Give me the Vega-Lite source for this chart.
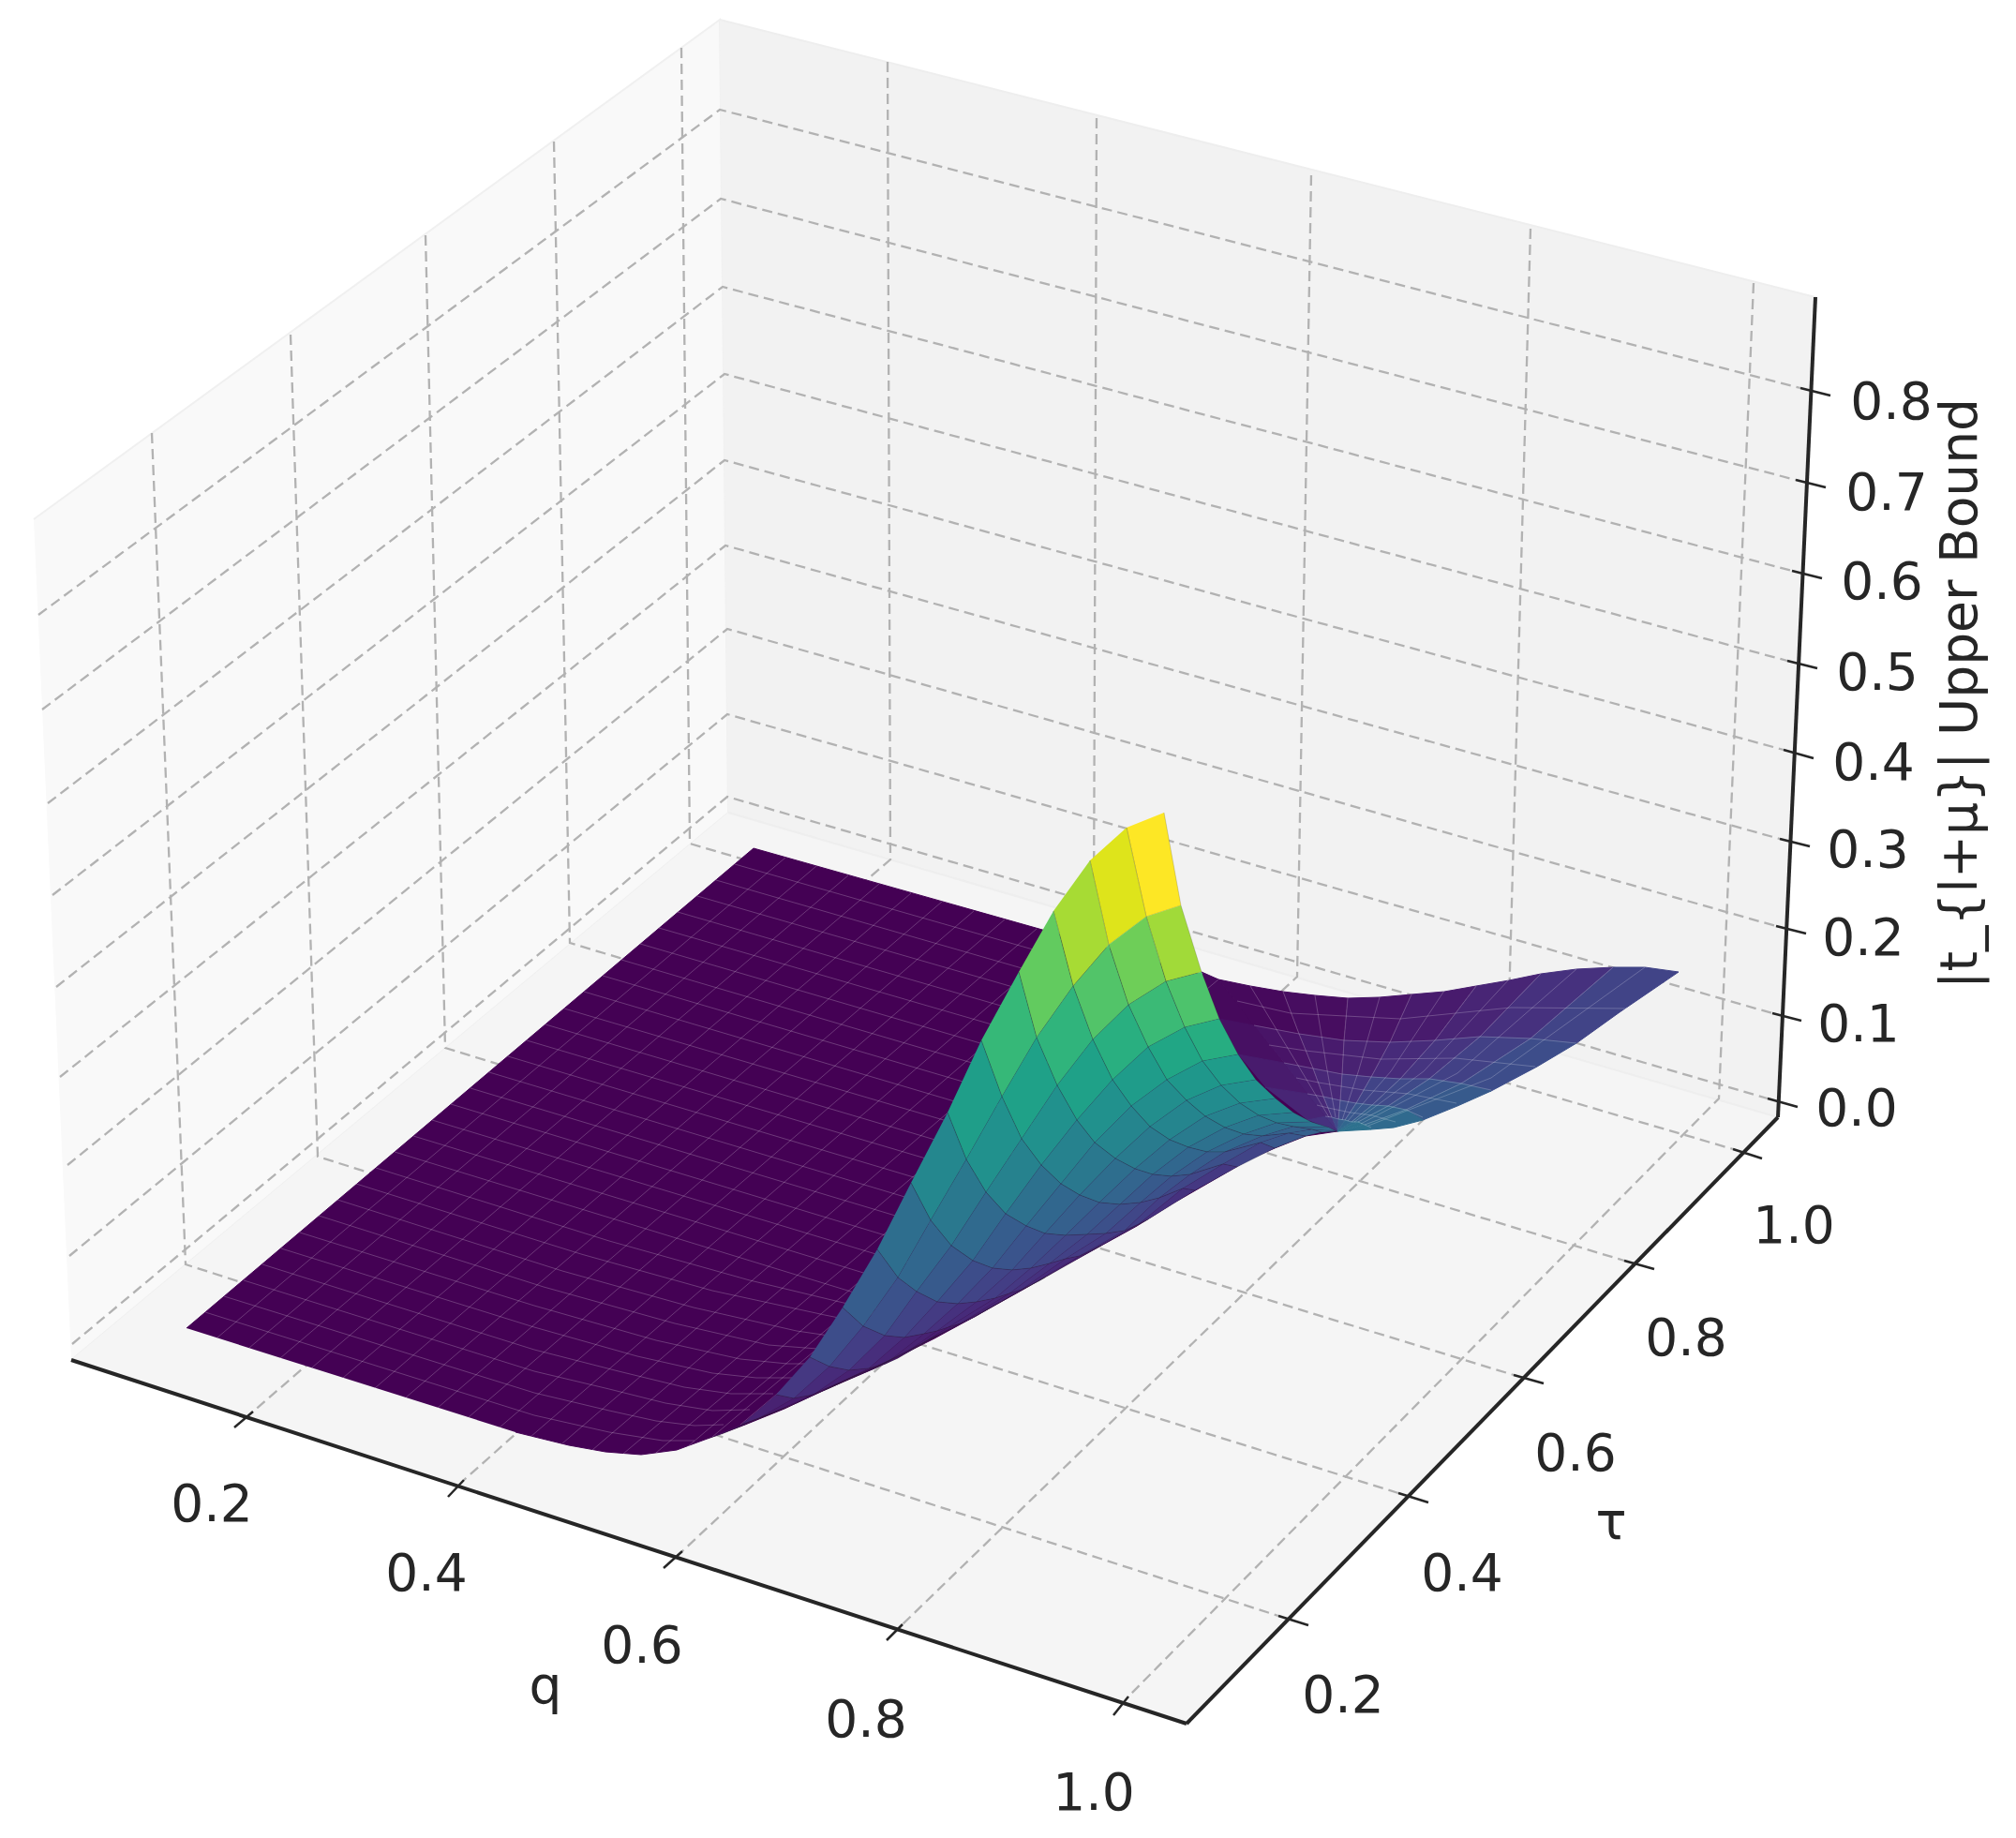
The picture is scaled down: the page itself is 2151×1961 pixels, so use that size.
{
"$schema":"https://vega.github.io/schema/vega-lite/v6.json",
"width":2151,"height":1961,
"autosize":{"type":"fit","contains":"padding"},
"padding":0,
"background":"#ffffff",
"view":{"stroke":null},
"datasets":{
"grid":[
{"id":"z8","xs":[41,768,1921],"ys":[656,117,414]},
{"id":"z7","xs":[45,769,1916],"ys":[757,212,512]},
{"id":"z6","xs":[51,771,1912],"ys":[857,306,609]},
{"id":"z5","xs":[56,773,1907],"ys":[955,399,705]},
{"id":"z4","xs":[60,773,1903],"ys":[1053,491,800]},
{"id":"z3","xs":[64,774,1899],"ys":[1149,582,895]},
{"id":"z2","xs":[72,776,1895],"ys":[1243,671,988]},
{"id":"z1","xs":[74,776,1891],"ys":[1340,762,1081]},
{"id":"z0","xs":[77,776,1886],"ys":[1434,850,1172]},
{"id":"t2","xs":[162,198,1364],"ys":[462,1349,1724]},
{"id":"t4","xs":[310,339,1492],"ys":[357,1234,1593]},
{"id":"t6","xs":[454,475,1615],"ys":[251,1118,1467]},
{"id":"t8","xs":[591,608,1733],"ys":[151,1006,1345]},
{"id":"t10","xs":[727,736,1849],"ys":[51,900,1226]},
{"id":"q2","xs":[947,950,270],"ys":[66,917,1506]},
{"id":"q4","xs":[1170,1167,495],"ys":[126,980,1579]},
{"id":"q6","xs":[1399,1384,728],"ys":[187,1042,1655]},
{"id":"q8","xs":[1633,1609,963],"ys":[244,1107,1733]},
{"id":"q10","xs":[1871,1834,1204],"ys":[302,1172,1810]}
],
"surface":[
{"id":"sheet","z":0,"xs":[199,804,1300,1427,1393,1360,1333,1293,1253,1213,1173,1133,1093,1043,997,933,875,837,795,760,722,684,646,607,550],"ys":[1417,905,1045,1207,1212,1225,1237,1260,1283,1308,1330,1352,1375,1403,1428,1460,1485,1503,1520,1533,1547,1552,1549,1542,1528]},
{"id":"s0","z":0.01,"xs":[1282,1300,1338,1301],"ys":[1037,1045,1094,1087]},
{"id":"s1","z":0.02,"xs":[1301,1338,1370,1321],"ys":[1087,1094,1134,1125]},
{"id":"s2","z":0.035,"xs":[1321,1370,1395,1350],"ys":[1125,1134,1167,1160]},
{"id":"s3","z":0.05,"xs":[1350,1395,1414,1395],"ys":[1160,1167,1191,1195]},
{"id":"s4","z":0.07,"xs":[1395,1414,1427,1427],"ys":[1195,1191,1207,1207]},
{"id":"a0","z":0.01,"xs":[1300,1334,1369,1386,1338],"ys":[1045,1052,1058,1103,1094]},
{"id":"a1","z":0.025,"xs":[1338,1386,1401,1370],"ys":[1094,1103,1140,1134]},
{"id":"a2","z":0.04,"xs":[1370,1401,1412,1395],"ys":[1134,1140,1170,1167]},
{"id":"a3","z":0.055,"xs":[1395,1412,1421,1414],"ys":[1167,1170,1192,1191]},
{"id":"a4","z":0.075,"xs":[1414,1421,1427,1427],"ys":[1191,1192,1207,1207]},
{"id":"b0","z":0.015,"xs":[1369,1403,1438,1434,1386],"ys":[1058,1062,1065,1110,1103]},
{"id":"b1","z":0.035,"xs":[1386,1434,1432,1401],"ys":[1103,1110,1146,1140]},
{"id":"b2","z":0.055,"xs":[1401,1432,1430,1412],"ys":[1140,1146,1174,1170]},
{"id":"b3","z":0.08,"xs":[1412,1430,1428,1421],"ys":[1170,1174,1194,1192]},
{"id":"b4","z":0.11,"xs":[1421,1428,1427,1427],"ys":[1192,1194,1207,1207]},
{"id":"c0","z":0.025,"xs":[1438,1472,1506,1483,1434],"ys":[1065,1064,1061,1112,1110]},
{"id":"c1","z":0.045,"xs":[1434,1483,1463,1432],"ys":[1110,1112,1149,1146]},
{"id":"c2","z":0.075,"xs":[1432,1463,1447,1430],"ys":[1146,1149,1177,1174]},
{"id":"c3","z":0.11,"xs":[1430,1447,1435,1428],"ys":[1174,1177,1195,1194]},
{"id":"c4","z":0.15,"xs":[1428,1435,1427,1427],"ys":[1194,1195,1207,1207]},
{"id":"d0","z":0.035,"xs":[1506,1541,1575,1531,1483],"ys":[1061,1058,1052,1110,1112]},
{"id":"d1","z":0.06,"xs":[1483,1531,1494,1463],"ys":[1112,1110,1151,1149]},
{"id":"d2","z":0.1,"xs":[1463,1494,1464,1447],"ys":[1149,1151,1179,1177]},
{"id":"d3","z":0.135,"xs":[1447,1464,1442,1435],"ys":[1177,1179,1197,1195]},
{"id":"d4","z":0.165,"xs":[1435,1442,1427,1427],"ys":[1195,1197,1207,1207]},
{"id":"e0","z":0.05,"xs":[1575,1610,1644,1579,1531],"ys":[1052,1046,1039,1106,1110]},
{"id":"e1","z":0.075,"xs":[1531,1579,1525,1494],"ys":[1110,1106,1151,1151]},
{"id":"e2","z":0.11,"xs":[1494,1525,1481,1464],"ys":[1151,1151,1180,1179]},
{"id":"e3","z":0.15,"xs":[1464,1481,1449,1442],"ys":[1179,1180,1197,1197]},
{"id":"e4","z":0.18,"xs":[1442,1449,1427,1427],"ys":[1197,1197,1207,1207]},
{"id":"f0","z":0.07,"xs":[1644,1682,1721,1633,1579],"ys":[1039,1034,1032,1108,1106]},
{"id":"f1","z":0.095,"xs":[1579,1633,1559,1525],"ys":[1106,1108,1156,1151]},
{"id":"f2","z":0.13,"xs":[1525,1559,1500,1481],"ys":[1151,1156,1184,1180]},
{"id":"f3","z":0.16,"xs":[1481,1500,1456,1449],"ys":[1180,1184,1200,1197]},
{"id":"f4","z":0.185,"xs":[1449,1456,1427,1427],"ys":[1197,1200,1207,1207]},
{"id":"g0","z":0.1,"xs":[1721,1755,1791,1728,1682,1633],"ys":[1032,1032,1037,1080,1113,1108]},
{"id":"g1","z":0.115,"xs":[1633,1682,1640,1591,1559],"ys":[1108,1113,1138,1164,1156]},
{"id":"g2","z":0.14,"xs":[1559,1591,1555,1518,1500],"ys":[1156,1164,1180,1195,1184]},
{"id":"g3","z":0.17,"xs":[1500,1518,1487,1463,1456],"ys":[1184,1195,1203,1205,1200]},
{"id":"g4","z":0.185,"xs":[1456,1463,1427,1427],"ys":[1200,1205,1207,1207]}
],
"mesh":[
{"id":"m1","xs":[219,570,650,707,741],"ys":[1400,1510,1528,1537,1537]},
{"id":"m2","xs":[239,570,650,700,741,772],"ys":[1383,1486,1505,1516,1521,1520]},
{"id":"m3","xs":[260,570,650,710,760,800],"ys":[1366,1463,1482,1497,1505,1504]},
{"id":"m4","xs":[280,570,660,730,780,825],"ys":[1349,1440,1463,1480,1487,1487]},
{"id":"m5","xs":[300,570,680,760,807,850],"ys":[1332,1416,1447,1465,1470,1470]},
{"id":"m6","xs":[320,570,700,790,840,870],"ys":[1315,1393,1430,1450,1455,1455]},
{"id":"m7","xs":[340,580,720,820,885],"ys":[1297,1373,1412,1435,1440]},
{"id":"m8","xs":[360,600,740,850,905],"ys":[1280,1356,1395,1420,1428]},
{"id":"m9","xs":[380,620,760,880,925],"ys":[1263,1338,1377,1403,1412]},
{"id":"m10","xs":[401,650,800,900,950],"ys":[1246,1324,1366,1390,1398]},
{"id":"m11","xs":[421,921],"ys":[1229,1382]},
{"id":"m12","xs":[441,941],"ys":[1212,1364]},
{"id":"m13","xs":[461,961],"ys":[1195,1346]},
{"id":"m14","xs":[481,981],"ys":[1178,1329]},
{"id":"m15","xs":[502,1002],"ys":[1161,1311]},
{"id":"m16","xs":[522,1022],"ys":[1144,1294]},
{"id":"m17","xs":[542,1042],"ys":[1127,1276]},
{"id":"m18","xs":[562,1062],"ys":[1110,1258]},
{"id":"m19","xs":[582,1082],"ys":[1093,1241]},
{"id":"m20","xs":[602,1102],"ys":[1076,1223]},
{"id":"m21","xs":[623,1123],"ys":[1058,1206]},
{"id":"m22","xs":[643,1143],"ys":[1041,1188]},
{"id":"m23","xs":[663,1163],"ys":[1024,1171]},
{"id":"m24","xs":[683,1183],"ys":[1007,1153]},
{"id":"m25","xs":[703,1203],"ys":[990,1135]},
{"id":"m26","xs":[723,1223],"ys":[973,1118]},
{"id":"m27","xs":[744,1244],"ys":[956,1100]},
{"id":"m28","xs":[764,1264],"ys":[939,1083]},
{"id":"m29","xs":[784,1284],"ys":[922,1065]},
{"id":"k1","xs":[838,232],"ys":[915,1427]},
{"id":"k2","xs":[871,266],"ys":[924,1438]},
{"id":"k3","xs":[905,299],"ys":[934,1449]},
{"id":"k4","xs":[938,333],"ys":[943,1459]},
{"id":"k5","xs":[972,366],"ys":[953,1470]},
{"id":"k6","xs":[1005,400],"ys":[962,1481]},
{"id":"k7","xs":[1039,433],"ys":[972,1491]},
{"id":"k8","xs":[1072,467],"ys":[981,1502]},
{"id":"k9","xs":[1106,500],"ys":[991,1512]},
{"id":"k10","xs":[1139,533],"ys":[1001,1523]},
{"id":"k11","xs":[1173,566],"ys":[1010,1533]},
{"id":"k12","xs":[1206,600],"ys":[1020,1540]},
{"id":"k13","xs":[1240,632],"ys":[1029,1547]},
{"id":"k14","xs":[1273,665],"ys":[1039,1551]},
{"id":"k15","xs":[1300,700],"ys":[1045,1550]},
{"id":"k16","xs":[1000,733],"ys":[1319,1544]},
{"id":"k17","xs":[1000,760],"ys":[1331,1533]},
{"id":"k18","xs":[1000,790],"ys":[1343,1520]},
{"id":"f1","xs":[1334,1381,1418],"ys":[1052,1130,1192]},
{"id":"f2","xs":[1369,1386,1401,1412,1421],"ys":[1058,1103,1140,1170,1192]},
{"id":"f3","xs":[1403,1415,1425],"ys":[1062,1136,1192]},
{"id":"f4","xs":[1438,1434,1432,1430,1428],"ys":[1065,1110,1146,1174,1194]},
{"id":"f5","xs":[1472,1450,1432],"ys":[1064,1141,1195]},
{"id":"f6","xs":[1506,1483,1463,1447,1435],"ys":[1061,1112,1149,1177,1195]},
{"id":"f7","xs":[1541,1484,1438],"ys":[1057,1143,1196]},
{"id":"f8","xs":[1575,1531,1494,1464,1442],"ys":[1052,1110,1151,1179,1197]},
{"id":"f9","xs":[1610,1519,1445],"ys":[1045,1143,1197]},
{"id":"f10","xs":[1644,1579,1525,1481,1449],"ys":[1039,1106,1151,1180,1197]},
{"id":"f11","xs":[1682,1555,1452],"ys":[1034,1145,1199]},
{"id":"f12","xs":[1721,1633,1559,1500,1456],"ys":[1032,1108,1156,1184,1200]},
{"id":"f13","xs":[1755,1591,1460],"ys":[1032,1150,1201]},
{"id":"r1","xs":[1320,1377,1494,1612,1736],"ys":[1068,1081,1087,1075,1076]},
{"id":"r2","xs":[1338,1386,1434,1483,1531,1579,1633,1682],"ys":[1094,1103,1110,1112,1110,1106,1108,1113]},
{"id":"r3","xs":[1354,1393,1473,1553,1638],"ys":[1115,1121,1130,1129,1138]},
{"id":"r4","xs":[1370,1401,1432,1463,1494,1525,1559,1591],"ys":[1134,1140,1146,1149,1151,1151,1156,1163]},
{"id":"r5","xs":[1383,1407,1455,1503,1554],"ys":[1150,1155,1163,1167,1177]},
{"id":"r6","xs":[1395,1412,1430,1447,1464,1481,1500,1518],"ys":[1167,1170,1174,1177,1179,1180,1184,1192]},
{"id":"r7","xs":[1405,1417,1441,1464,1489],"ys":[1179,1182,1187,1190,1197]},
{"id":"r8","xs":[1414,1421,1428,1435,1442,1449,1456,1463],"ys":[1191,1192,1194,1195,1197,1197,1200,1203]}
],
"hump":[
{"id":1,"z":0.5,"xs":[1242,1260,1223,1202],"ys":[867,966,978,883]},
{"id":2,"z":0.43,"xs":[1260,1282,1244,1223],"ys":[966,1037,1047,978]},
{"id":3,"z":0.36,"xs":[1282,1301,1264,1244],"ys":[1037,1087,1096,1047]},
{"id":4,"z":0.31,"xs":[1301,1321,1283,1264],"ys":[1087,1125,1132,1096]},
{"id":5,"z":0.275,"xs":[1321,1340,1303,1283],"ys":[1125,1152,1158,1132]},
{"id":6,"z":0.25,"xs":[1340,1361,1323,1303],"ys":[1152,1172,1177,1158]},
{"id":7,"z":0.23,"xs":[1361,1380,1343,1323],"ys":[1172,1187,1190,1177]},
{"id":8,"z":0.21,"xs":[1380,1399,1362,1343],"ys":[1187,1197,1198,1190]},
{"id":9,"z":0.19,"xs":[1399,1418,1380,1362],"ys":[1197,1203,1202,1198]},
{"id":10,"z":0.17,"xs":[1418,1426,1400,1380],"ys":[1203,1207,1205,1202]},
{"id":11,"z":0.17,"xs":[1426,1427,1410,1400],"ys":[1207,1207,1208,1205]},
{"id":12,"z":0.475,"xs":[1202,1223,1183,1163],"ys":[883,978,1008,918]},
{"id":13,"z":0.39,"xs":[1223,1244,1204,1183],"ys":[978,1047,1072,1008]},
{"id":14,"z":0.34,"xs":[1244,1264,1225,1204],"ys":[1047,1096,1117,1072]},
{"id":15,"z":0.295,"xs":[1264,1283,1245,1225],"ys":[1096,1132,1152,1117]},
{"id":16,"z":0.265,"xs":[1283,1303,1266,1245],"ys":[1132,1158,1174,1152]},
{"id":17,"z":0.24,"xs":[1303,1323,1286,1266],"ys":[1158,1177,1191,1174]},
{"id":18,"z":0.22,"xs":[1323,1343,1307,1286],"ys":[1177,1190,1203,1191]},
{"id":19,"z":0.2,"xs":[1343,1362,1327,1307],"ys":[1190,1198,1210,1203]},
{"id":20,"z":0.18,"xs":[1362,1380,1347,1327],"ys":[1198,1202,1212,1210]},
{"id":21,"z":0.155,"xs":[1380,1400,1375,1347],"ys":[1202,1205,1209,1212]},
{"id":22,"z":0.15,"xs":[1400,1410,1393,1375],"ys":[1205,1208,1212,1209]},
{"id":23,"z":0.435,"xs":[1163,1183,1145,1124],"ys":[918,1008,1052,972]},
{"id":24,"z":0.365,"xs":[1183,1204,1166,1145],"ys":[1008,1072,1109,1052]},
{"id":25,"z":0.315,"xs":[1204,1225,1187,1166],"ys":[1072,1117,1152,1109]},
{"id":26,"z":0.275,"xs":[1225,1245,1207,1187],"ys":[1117,1152,1180,1152]},
{"id":27,"z":0.245,"xs":[1245,1266,1227,1207],"ys":[1152,1174,1202,1180]},
{"id":28,"z":0.225,"xs":[1266,1286,1248,1227],"ys":[1174,1191,1216,1202]},
{"id":29,"z":0.205,"xs":[1286,1307,1268,1248],"ys":[1191,1203,1224,1216]},
{"id":30,"z":0.185,"xs":[1307,1327,1288,1268],"ys":[1203,1210,1229,1224]},
{"id":31,"z":0.165,"xs":[1327,1347,1307,1288],"ys":[1210,1212,1229,1229]},
{"id":32,"z":0.14,"xs":[1347,1375,1345,1307],"ys":[1212,1209,1219,1229]},
{"id":33,"z":0.135,"xs":[1375,1393,1360,1345],"ys":[1209,1212,1225,1219]},
{"id":34,"z":0.38,"xs":[1124,1145,1106,1087],"ys":[972,1052,1107,1037]},
{"id":35,"z":0.325,"xs":[1145,1166,1128,1106],"ys":[1052,1109,1158,1107]},
{"id":36,"z":0.285,"xs":[1166,1187,1149,1128],"ys":[1109,1152,1195,1158]},
{"id":37,"z":0.25,"xs":[1187,1207,1168,1149],"ys":[1152,1180,1219,1195]},
{"id":38,"z":0.225,"xs":[1207,1227,1190,1168],"ys":[1180,1202,1236,1219]},
{"id":39,"z":0.205,"xs":[1227,1248,1211,1190],"ys":[1202,1216,1247,1236]},
{"id":40,"z":0.185,"xs":[1248,1268,1230,1211],"ys":[1216,1224,1253,1247]},
{"id":41,"z":0.165,"xs":[1268,1288,1250,1230],"ys":[1224,1229,1255,1253]},
{"id":42,"z":0.145,"xs":[1288,1307,1270,1250],"ys":[1229,1229,1253,1255]},
{"id":43,"z":0.12,"xs":[1307,1345,1305,1270],"ys":[1229,1219,1242,1253]},
{"id":44,"z":0.1,"xs":[1345,1360,1320,1305],"ys":[1219,1225,1245,1242]},
{"id":45,"z":0.335,"xs":[1087,1106,1069,1047],"ys":[1037,1107,1170,1110]},
{"id":46,"z":0.285,"xs":[1106,1128,1090,1069],"ys":[1107,1158,1215,1170]},
{"id":47,"z":0.25,"xs":[1128,1149,1111,1090],"ys":[1158,1195,1243,1215]},
{"id":48,"z":0.22,"xs":[1149,1168,1132,1111],"ys":[1195,1219,1263,1243]},
{"id":49,"z":0.2,"xs":[1168,1190,1152,1132],"ys":[1219,1236,1275,1263]},
{"id":50,"z":0.18,"xs":[1190,1211,1173,1152],"ys":[1236,1247,1283,1275]},
{"id":51,"z":0.16,"xs":[1211,1230,1195,1173],"ys":[1247,1253,1285,1283]},
{"id":52,"z":0.14,"xs":[1230,1250,1217,1195],"ys":[1253,1255,1283,1285]},
{"id":53,"z":0.125,"xs":[1250,1270,1237,1217],"ys":[1255,1253,1278,1283]},
{"id":54,"z":0.105,"xs":[1270,1305,1262,1237],"ys":[1253,1242,1268,1278]},
{"id":55,"z":0.08,"xs":[1305,1320,1275,1262],"ys":[1242,1245,1270,1268]},
{"id":56,"z":0.28,"xs":[1047,1069,1031,1011],"ys":[1110,1170,1237,1187]},
{"id":57,"z":0.25,"xs":[1069,1090,1052,1031],"ys":[1170,1215,1272,1237]},
{"id":58,"z":0.22,"xs":[1090,1111,1073,1052],"ys":[1215,1243,1295,1272]},
{"id":59,"z":0.185,"xs":[1111,1132,1095,1073],"ys":[1243,1263,1308,1295]},
{"id":60,"z":0.165,"xs":[1132,1152,1115,1095],"ys":[1263,1275,1316,1308]},
{"id":61,"z":0.15,"xs":[1152,1173,1137,1115],"ys":[1275,1283,1318,1316]},
{"id":62,"z":0.135,"xs":[1173,1195,1160,1137],"ys":[1283,1285,1317,1318]},
{"id":63,"z":0.12,"xs":[1195,1217,1180,1160],"ys":[1285,1283,1316,1317]},
{"id":64,"z":0.105,"xs":[1217,1237,1200,1180],"ys":[1283,1278,1313,1316]},
{"id":65,"z":0.09,"xs":[1237,1262,1215,1200],"ys":[1278,1268,1306,1313]},
{"id":66,"z":0.07,"xs":[1262,1275,1225,1215],"ys":[1268,1270,1301,1306]},
{"id":67,"z":0.23,"xs":[1011,1031,993,972],"ys":[1187,1237,1302,1262]},
{"id":68,"z":0.2,"xs":[1031,1052,1015,993],"ys":[1237,1272,1329,1302]},
{"id":69,"z":0.17,"xs":[1052,1073,1038,1015],"ys":[1272,1295,1345,1329]},
{"id":70,"z":0.145,"xs":[1073,1095,1059,1038],"ys":[1295,1308,1353,1345]},
{"id":71,"z":0.13,"xs":[1095,1115,1080,1059],"ys":[1308,1316,1355,1353]},
{"id":72,"z":0.115,"xs":[1115,1137,1100,1080],"ys":[1316,1318,1353,1355]},
{"id":73,"z":0.105,"xs":[1137,1160,1120,1100],"ys":[1318,1317,1348,1353]},
{"id":74,"z":0.095,"xs":[1160,1180,1137,1120],"ys":[1317,1316,1343,1348]},
{"id":75,"z":0.085,"xs":[1180,1200,1152,1137],"ys":[1316,1313,1340,1343]},
{"id":76,"z":0.075,"xs":[1200,1215,1165,1152],"ys":[1313,1306,1334,1340]},
{"id":77,"z":0.06,"xs":[1215,1225,1175,1165],"ys":[1306,1301,1329,1334]},
{"id":78,"z":0.18,"xs":[972,993,958,936],"ys":[1262,1302,1363,1333]},
{"id":79,"z":0.165,"xs":[993,1015,978,958],"ys":[1302,1329,1378,1363]},
{"id":80,"z":0.14,"xs":[1015,1038,1000,978],"ys":[1329,1345,1389,1378]},
{"id":81,"z":0.115,"xs":[1038,1059,1022,1000],"ys":[1345,1353,1391,1389]},
{"id":82,"z":0.1,"xs":[1059,1080,1042,1022],"ys":[1353,1355,1389,1391]},
{"id":83,"z":0.09,"xs":[1080,1100,1062,1042],"ys":[1355,1353,1385,1389]},
{"id":84,"z":0.08,"xs":[1100,1120,1077,1062],"ys":[1353,1348,1380,1385]},
{"id":85,"z":0.07,"xs":[1120,1137,1090,1077],"ys":[1348,1343,1376,1380]},
{"id":86,"z":0.06,"xs":[1137,1152,1100,1090],"ys":[1343,1340,1371,1376]},
{"id":87,"z":0.05,"xs":[1152,1165,1108,1100],"ys":[1340,1334,1367,1371]},
{"id":88,"z":0.045,"xs":[1165,1175,1115,1108],"ys":[1334,1329,1363,1367]},
{"id":89,"z":0.145,"xs":[936,958,921,899],"ys":[1333,1363,1415,1395]},
{"id":90,"z":0.125,"xs":[958,978,944,921],"ys":[1363,1378,1425,1415]},
{"id":91,"z":0.1,"xs":[978,1000,965,944],"ys":[1378,1389,1427,1425]},
{"id":92,"z":0.085,"xs":[1000,1022,986,965],"ys":[1389,1391,1423,1427]},
{"id":93,"z":0.07,"xs":[1022,1042,1000,986],"ys":[1391,1389,1420,1423]},
{"id":94,"z":0.06,"xs":[1042,1062,1012,1000],"ys":[1389,1385,1416,1420]},
{"id":95,"z":0.055,"xs":[1062,1077,1025,1012],"ys":[1385,1380,1412,1416]},
{"id":96,"z":0.05,"xs":[1077,1090,1040,1025],"ys":[1380,1376,1405,1412]},
{"id":97,"z":0.045,"xs":[1090,1100,1055,1040],"ys":[1376,1371,1396,1405]},
{"id":98,"z":0.04,"xs":[1100,1115,1055],"ys":[1371,1363,1396]},
{"id":99,"z":0.115,"xs":[899,921,885,864],"ys":[1395,1415,1458,1448]},
{"id":100,"z":0.09,"xs":[921,944,906,885],"ys":[1415,1425,1462,1458]},
{"id":101,"z":0.065,"xs":[944,965,927,906],"ys":[1425,1427,1460,1462]},
{"id":102,"z":0.05,"xs":[965,986,945,927],"ys":[1427,1423,1455,1460]},
{"id":103,"z":0.045,"xs":[986,1000,958,945],"ys":[1423,1420,1449,1455]},
{"id":104,"z":0.04,"xs":[1000,1012,970,958],"ys":[1420,1416,1442,1449]},
{"id":105,"z":0.035,"xs":[1012,1025,982,970],"ys":[1416,1412,1435,1442]},
{"id":106,"z":0.03,"xs":[1025,1040,992,982],"ys":[1412,1405,1429,1435]},
{"id":107,"z":0.03,"xs":[1040,1055,1000,992],"ys":[1405,1396,1425,1429]},
{"id":108,"z":0.08,"xs":[864,885,847,828],"ys":[1448,1458,1492,1488]},
{"id":109,"z":0.06,"xs":[885,906,868,847],"ys":[1458,1462,1488,1492]},
{"id":110,"z":0.045,"xs":[906,927,885,868],"ys":[1462,1460,1481,1488]},
{"id":111,"z":0.035,"xs":[927,945,900,885],"ys":[1460,1455,1474,1481]},
{"id":112,"z":0.03,"xs":[945,958,912,900],"ys":[1455,1449,1468,1474]},
{"id":113,"z":0.025,"xs":[958,970,922,912],"ys":[1449,1442,1464,1468]},
{"id":114,"z":0.025,"xs":[970,982,932,922],"ys":[1442,1435,1460,1464]},
{"id":115,"z":0.02,"xs":[982,992,942,932],"ys":[1435,1429,1455,1460]},
{"id":116,"z":0.02,"xs":[992,1000,950,942],"ys":[1429,1425,1451,1455]},
{"id":117,"z":0.045,"xs":[828,847,810,791],"ys":[1488,1492,1513,1520]},
{"id":118,"z":0.035,"xs":[847,868,825,810],"ys":[1492,1488,1507,1513]},
{"id":119,"z":0.025,"xs":[868,885,838,825],"ys":[1488,1481,1502,1507]},
{"id":120,"z":0.02,"xs":[885,900,850,838],"ys":[1481,1474,1497,1502]},
{"id":121,"z":0.02,"xs":[900,912,860,850],"ys":[1474,1468,1491,1497]},
{"id":122,"z":0.015,"xs":[912,922,870,860],"ys":[1468,1464,1487,1491]},
{"id":123,"z":0.015,"xs":[922,932,880,870],"ys":[1464,1460,1482,1487]},
{"id":124,"z":0.015,"xs":[932,942,890,880],"ys":[1460,1455,1478,1482]},
{"id":125,"z":0.015,"xs":[942,950,900,890],"ys":[1455,1451,1473,1478]},
{"id":126,"z":0.02,"xs":[791,810,770,755],"ys":[1520,1513,1530,1535]},
{"id":127,"z":0.015,"xs":[810,825,785,770],"ys":[1513,1507,1524,1530]},
{"id":128,"z":0.01,"xs":[825,838,798,785],"ys":[1507,1502,1518,1524]}
],
"axes":[
{"id":"q","xs":[76,1266],"ys":[1451,1839]},
{"id":"t","xs":[1266,1897],"ys":[1839,1192]},
{"id":"z","xs":[1897,1937],"ys":[1192,317]}
],
"ticks":[
{"id":"q2","xs":[270,250],"ys":[1506,1523]},
{"id":"q4","xs":[495,478],"ys":[1579,1597]},
{"id":"q6","xs":[728,708],"ys":[1655,1673]},
{"id":"q8","xs":[963,946],"ys":[1733,1750]},
{"id":"q10","xs":[1204,1188],"ys":[1810,1830]},
{"id":"t2","xs":[1364,1396],"ys":[1724,1734]},
{"id":"t4","xs":[1492,1524],"ys":[1593,1603]},
{"id":"t6","xs":[1615,1647],"ys":[1467,1476]},
{"id":"t8","xs":[1733,1765],"ys":[1345,1354]},
{"id":"t10","xs":[1849,1880],"ys":[1226,1236]},
{"id":"z0","xs":[1886,1918],"ys":[1172,1181]},
{"id":"z1","xs":[1891,1922],"ys":[1081,1089]},
{"id":"z2","xs":[1895,1927],"ys":[988,996]},
{"id":"z3","xs":[1899,1931],"ys":[895,903]},
{"id":"z4","xs":[1903,1935],"ys":[800,809]},
{"id":"z5","xs":[1907,1939],"ys":[705,713]},
{"id":"z6","xs":[1912,1944],"ys":[609,617]},
{"id":"z7","xs":[1916,1948],"ys":[512,520]},
{"id":"z8","xs":[1921,1953],"ys":[414,422]}
],
"labels":[
{"x":226,"y":1606,"label":"0.2"},{"x":455,"y":1680,"label":"0.4"},{"x":685,"y":1757,"label":"0.6"},{"x":924,"y":1836,"label":"0.8"},{"x":1167,"y":1914,"label":"1.0"},
{"x":582,"y":1800,"label":"q"},
{"x":1433,"y":1810,"label":"0.2"},{"x":1560,"y":1680,"label":"0.4"},{"x":1681,"y":1552,"label":"0.6"},{"x":1799,"y":1429,"label":"0.8"},{"x":1914,"y":1309,"label":"1.0"},
{"x":1719,"y":1625,"label":"τ"},
{"x":1981,"y":1184,"label":"0.0"},{"x":1983,"y":1094,"label":"0.1"},{"x":1988,"y":1002,"label":"0.2"},{"x":1993,"y":908,"label":"0.3"},{"x":1999,"y":815,"label":"0.4"},{"x":2003,"y":719,"label":"0.5"},{"x":2008,"y":622,"label":"0.6"},{"x":2013,"y":527,"label":"0.7"},{"x":2018,"y":430,"label":"0.8"}
]
},
"encoding":{
"x":{"field":"x","type":"quantitative","scale":{"domain":[0,2151],"nice":false,"zero":false},"axis":null},
"y":{"field":"y","type":"quantitative","scale":{"domain":[1961,0],"nice":false,"zero":false},"axis":null}
},
"layer":[
{"data":{"values":[{"id":"left","xs":[36,768,777,76],"ys":[554,21,867,1451]}]},
"transform":[{"flatten":["xs","ys"],"as":["x","y"]}],
"mark":{"type":"line","fill":"#f9f9f9","stroke":"#f0f0f0","strokeWidth":2},
"encoding":{"order":{"value":null}}},
{"data":{"values":[{"id":"back","xs":[768,1937,1897,777],"ys":[21,317,1192,867]}]},
"transform":[{"flatten":["xs","ys"],"as":["x","y"]}],
"mark":{"type":"line","fill":"#f2f2f2","stroke":"#eeeeee","strokeWidth":2},
"encoding":{"order":{"value":null}}},
{"data":{"values":[{"id":"floor","xs":[76,1266,1897,777],"ys":[1451,1839,1192,867]}]},
"transform":[{"flatten":["xs","ys"],"as":["x","y"]}],
"mark":{"type":"line","fill":"#f5f5f5","stroke":"#eeeeee","strokeWidth":2},
"encoding":{"order":{"value":null}}},
{"data":{"name":"grid"},
"transform":[{"flatten":["xs","ys"],"as":["x","y"]}],
"mark":{"type":"line","stroke":"#b2b2b2","strokeWidth":2.3,"strokeDash":[11,6]},
"encoding":{"detail":{"field":"id"},"order":{"value":null}}},
{"data":{"name":"surface"},
"transform":[{"flatten":["xs","ys"],"as":["x","y"]}],
"mark":{"type":"line","strokeWidth":1},
"encoding":{"detail":{"field":"id"},"order":{"value":null},
"fill":{"field":"z","type":"quantitative","scale":{"scheme":"viridis","domain":[0,0.5]},"legend":null},
"stroke":{"field":"z","type":"quantitative","scale":{"scheme":"viridis","domain":[0,0.5]},"legend":null}}},
{"data":{"name":"mesh"},
"transform":[{"flatten":["xs","ys"],"as":["x","y"]}],
"mark":{"type":"line","stroke":"#ffffff","strokeOpacity":0.22,"strokeWidth":1},
"encoding":{"detail":{"field":"id"},"order":{"value":null}}},
{"data":{"name":"hump"},
"transform":[{"flatten":["xs","ys"],"as":["x","y"]}],
"mark":{"type":"line","stroke":"#222222","strokeOpacity":0.18,"strokeWidth":1},
"encoding":{"detail":{"field":"id"},"order":{"value":null},
"fill":{"field":"z","type":"quantitative","scale":{"scheme":"viridis","domain":[0,0.5]},"legend":null}}},
{"data":{"name":"axes"},
"transform":[{"flatten":["xs","ys"],"as":["x","y"]}],
"mark":{"type":"line","stroke":"#262626","strokeWidth":4},
"encoding":{"detail":{"field":"id"},"order":{"value":null}}},
{"data":{"name":"ticks"},
"transform":[{"flatten":["xs","ys"],"as":["x","y"]}],
"mark":{"type":"line","stroke":"#262626","strokeWidth":2.5},
"encoding":{"detail":{"field":"id"},"order":{"value":null}}},
{"data":{"name":"labels"},
"mark":{"type":"text","font":"DejaVu Sans","fontSize":55,"color":"#262626","align":"center","baseline":"middle"},
"encoding":{"text":{"field":"label"}}},
{"data":{"values":[{"x":2092,"y":740,"label":"|t_{l+μ}| Upper Bound"}]},
"mark":{"type":"text","font":"DejaVu Sans","fontSize":55,"color":"#262626","align":"center","baseline":"middle","angle":270},
"encoding":{"text":{"field":"label"}}}
]
}
